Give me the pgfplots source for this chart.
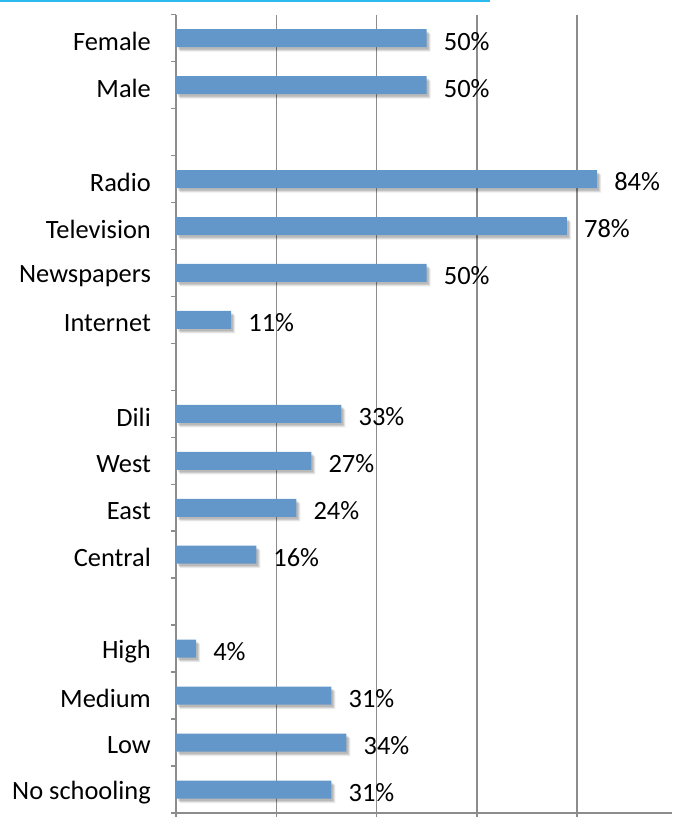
\documentclass[border=0pt]{standalone}
\usepackage{pgfplots}
\pgfplotsset{compat=1.18}
\usepackage{fontspec}
\setmainfont{Carlito}
\usetikzlibrary{shadows}
\definecolor{barblue}{HTML}{6396C9}
\definecolor{gridgray}{HTML}{8C8C8C}
\definecolor{topcyan}{HTML}{2BB9EE}
\begin{document}
\begin{tikzpicture}
\begin{axis}[
  name=ax,
  scale only axis,
  width=496bp, height=798bp,
  xbar, bar width=18bp,
  xmin=0, xmax=99,
  ymin=-0.5, ymax=16.5,
  axis lines=left,
  axis line style={-, draw=gridgray, line width=1.5bp},
  xtick={0,20,40,60,80}, xticklabels={},
  xmajorgrids,
  grid style={draw=gridgray, line width=1.5bp},
  x tick style={draw=gridgray, line width=1.5bp},
  tick align=outside,
  major tick length=5bp,
  ytick={-0.5,0.5,...,16.5}, yticklabels={},
  y tick style={draw=gridgray, line width=1.5bp},
  extra y ticks={0,1,2,3,4,5,6,7,8,9,10,11,12,13,14,15,16},
  extra y tick labels={No schooling,Low,Medium,High,,Central,East,West,Dili,,Internet,Newspapers,Television,Radio,,Male,Female},
  extra y tick style={major tick length=0pt, y tick style={draw=none}},
  yticklabel style={font=\fontsize{26.5}{31}\selectfont, inner sep=0pt, xshift=-25bp, yshift=-3bp},
  /pgf/number format/assume math mode=true,
  nodes near coords={\pgfmathprintnumber{\pgfplotspointmeta}\%},
  every node near coord/.append style={font=\fontsize{26.5}{31}\selectfont, text=black, inner sep=0pt, anchor=west, xshift=17bp, yshift=-3bp},
]
\addplot[fill=barblue, draw=none,
  drop shadow={shadow xshift=4bp, shadow yshift=-4.5bp, fill=black, opacity=0.08},
  drop shadow={shadow xshift=3bp, shadow yshift=-3.5bp, fill=black, opacity=0.10},
  drop shadow={shadow xshift=2bp, shadow yshift=-2.5bp, fill=black, opacity=0.12}] coordinates {
(31,0) (34,1) (31,2) (4,3)
(16,5) (24,6) (27,7) (33,8)
(11,10) (50,11) (78,12) (84,13)
(50,15) (50,16)
};
\end{axis}
\pgfresetboundingbox
\path[use as bounding box] ([xshift=-176bp,yshift=-4bp]ax.south west) rectangle ([yshift=14.7bp]ax.north east);
\draw[topcyan, line width=2.5bp] ([xshift=-176bp,yshift=13.5bp]ax.north west) -- ++(490bp,0);
\end{tikzpicture}
\end{document}
